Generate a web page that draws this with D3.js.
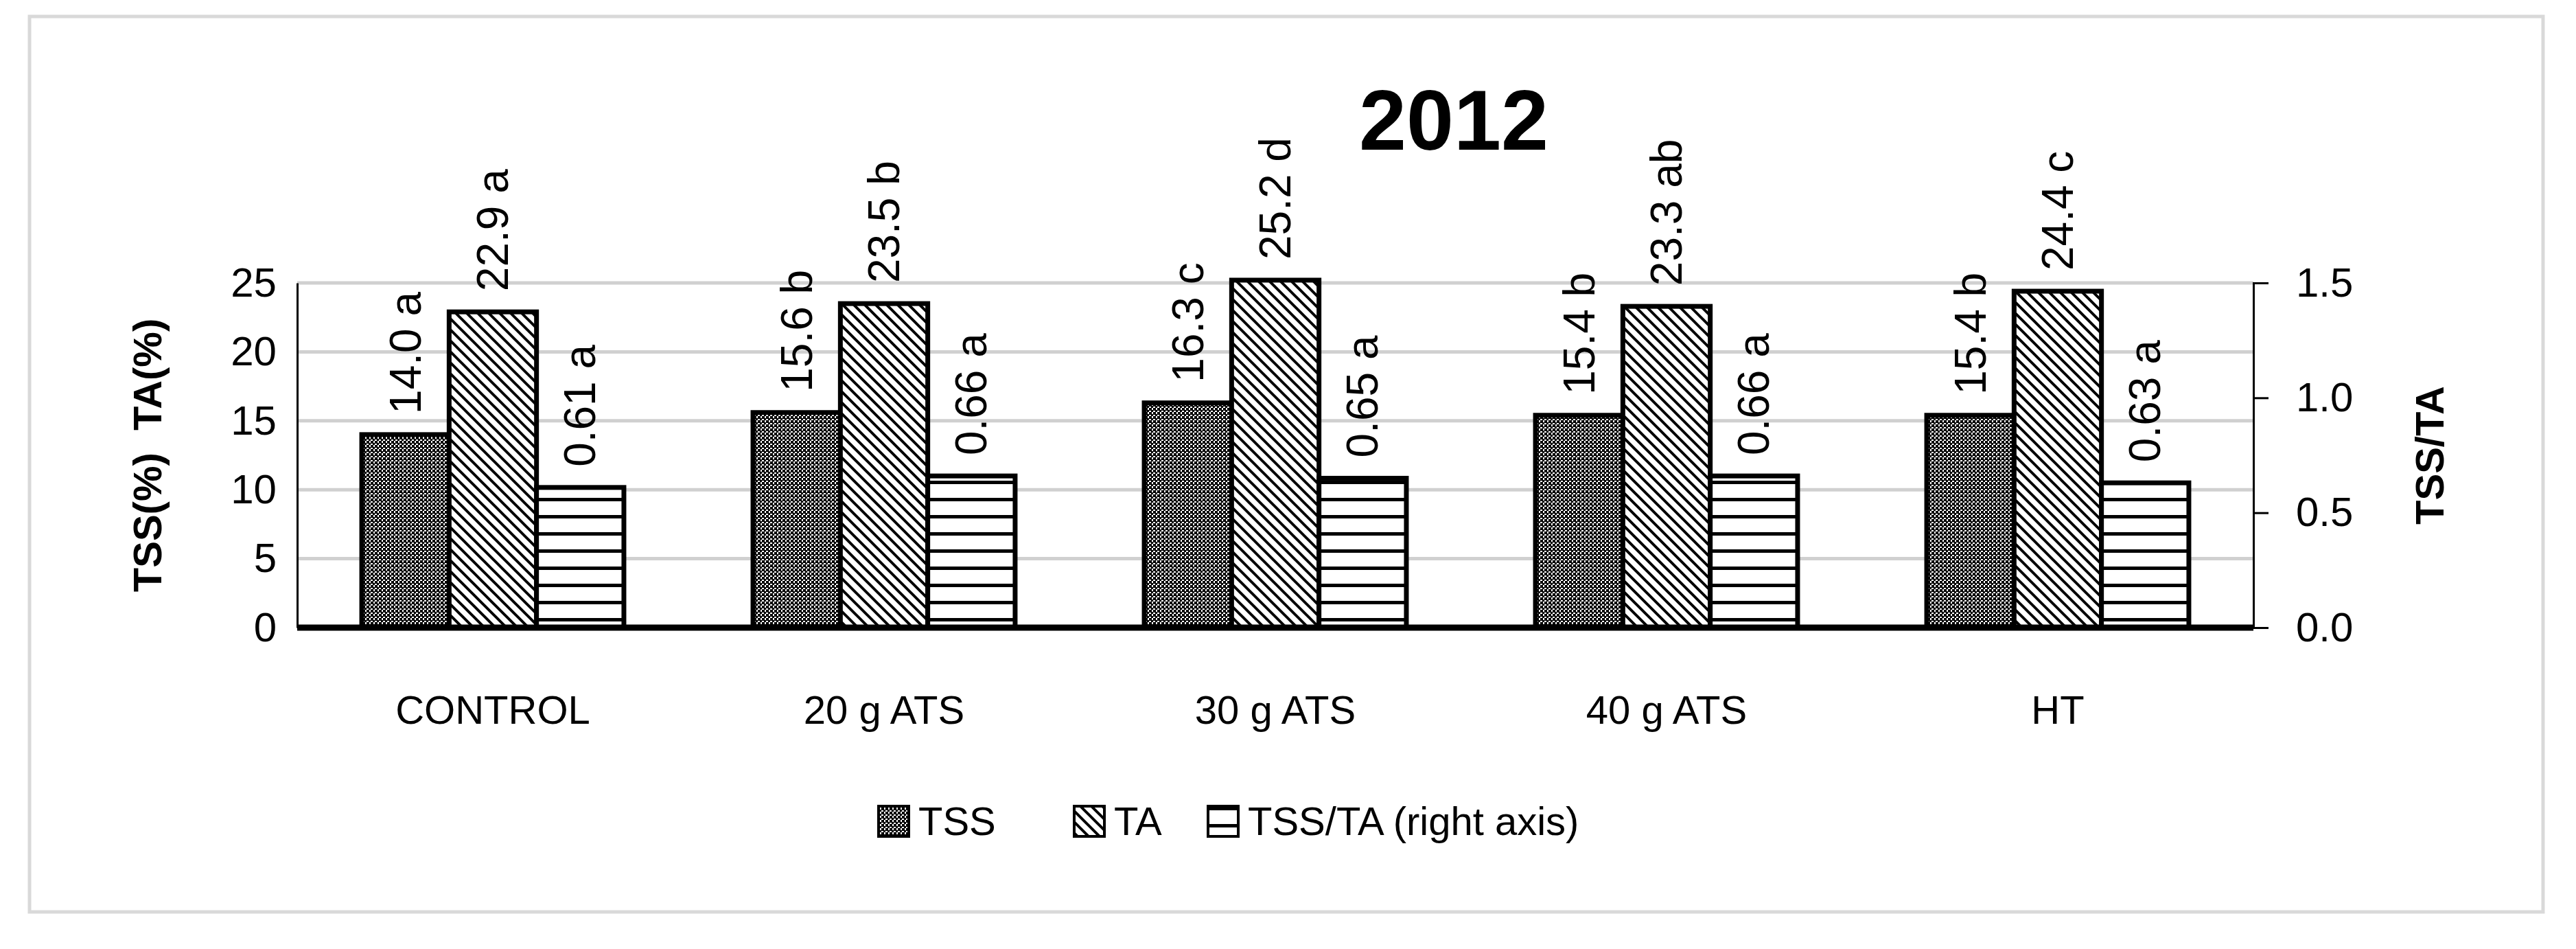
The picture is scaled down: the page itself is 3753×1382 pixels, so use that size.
<!DOCTYPE html>
<html><head><meta charset="utf-8">
<script src="https://cdn.jsdelivr.net/npm/d3@7"></script>
<style>body{margin:0;background:#fff}</style></head>
<body><svg id="c" width="3753" height="1382"></svg>
<script>
const categories = ["CONTROL","20 g ATS","30 g ATS","40 g ATS","HT"];
const tss = [14.0,15.6,16.3,15.4,15.4];
const ta = [22.9,23.5,25.2,23.3,24.4];
const ratio = [0.61,0.66,0.65,0.66,0.63];
const tssLetters = ["a","b","c","b","b"];
const taLetters = ["a","b","d","ab","c"];
const ratioLetters = ["a","a","a","a","a"];
const leftTicks = [0,5,10,15,20,25];
const rightTicks = [0,0.5,1.0,1.5];

const svg = d3.select("#c");
const F = "'Liberation Sans', Arial, sans-serif";
const defs = svg.append("defs");
let p = defs.append("pattern").attr("id","chk").attr("patternUnits","userSpaceOnUse").attr("width",6).attr("height",6);
p.append("rect").attr("width",6).attr("height",6).attr("fill","#fff");
p.append("rect").attr("width",4).attr("height",4).attr("fill","#000");
p.append("rect").attr("x",3).attr("y",3).attr("width",3).attr("height",3).attr("fill","#000");
p = defs.append("pattern").attr("id","diag").attr("patternUnits","userSpaceOnUse").attr("width",16).attr("height",16);
p.append("rect").attr("width",16).attr("height",16).attr("fill","#fff");
p.append("path").attr("d","M-2,-2 L18,18 M-2,14 L2,18 M14,-2 L18,2").attr("stroke","#000").attr("stroke-width",4);
p = defs.append("pattern").attr("id","hor").attr("patternUnits","userSpaceOnUse").attr("width",20).attr("height",25);
p.append("rect").attr("width",20).attr("height",25).attr("fill","#fff");
p.append("rect").attr("y",0).attr("width",20).attr("height",5).attr("fill","#000");

svg.append("rect").attr("x",43).attr("y",24).attr("width",3662).attr("height",1304).attr("fill","#fff").attr("stroke","#d9d9d9").attr("stroke-width",5);

const x0 = 433, x1 = 3283, yTop = 412, yBot = 914;
const x = d3.scaleBand().domain(categories).range([x0,x1]).paddingInner(0.33).paddingOuter(0.165);
const yL = d3.scaleLinear().domain([0,25]).range([yBot,yTop]);
const yR = d3.scaleLinear().domain([0,1.5]).range([yBot,yTop]);
const bw = x.bandwidth()/3;

svg.append("g").selectAll("line").data(leftTicks.slice(1)).join("line")
  .attr("x1",x0).attr("x2",x1).attr("y1",d=>yL(d)).attr("y2",d=>yL(d)).attr("stroke","#d0d0d0").attr("stroke-width",5);

const gl = svg.append("g").attr("transform",`translate(${x0},0)`).call(d3.axisLeft(yL).tickValues(leftTicks).tickSize(0).tickPadding(30));
gl.select(".domain").attr("stroke","#000").attr("stroke-width",3);
gl.selectAll("text").attr("font-family",F).attr("font-size",60).attr("fill","#000");
const gr = svg.append("g").attr("transform",`translate(${x1},0)`).call(d3.axisRight(yR).tickValues(rightTicks).tickFormat(d3.format(".1f")).tickSize(22).tickSizeOuter(22).tickPadding(40));
gr.select(".domain").attr("stroke","#000").attr("stroke-width",3);
gr.selectAll("line").attr("stroke","#000").attr("stroke-width",3);
gr.selectAll("text").attr("font-family",F).attr("font-size",60).attr("fill","#000");

const series = [
  {vals:tss, lets:tssLetters, y:yL, fill:"url(#chk)", fmt:d3.format(".1f")},
  {vals:ta, lets:taLetters, y:yL, fill:"url(#diag)", fmt:d3.format(".1f")},
  {vals:ratio, lets:ratioLetters, y:yR, fill:"url(#hor)", fmt:d3.format(".2f")}
];
series.forEach((s,i)=>{
  const g = svg.append("g");
  g.selectAll("rect").data(categories).join("rect")
    .attr("x",c=>x(c)+i*bw).attr("width",bw)
    .attr("y",(c,j)=>s.y(s.vals[j])).attr("height",(c,j)=>yBot-s.y(s.vals[j]))
    .attr("fill",s.fill).attr("stroke","#000").attr("stroke-width",7);
  g.selectAll("text").data(categories).join("text")
    .attr("transform",(c,j)=>`translate(${x(c)+i*bw+bw/2+22},${s.y(s.vals[j])-30}) rotate(-90)`)
    .attr("font-family",F).attr("font-size",64).attr("fill","#000")
    .text((c,j)=>s.fmt(s.vals[j])+" "+s.lets[j]);
});
svg.append("line").attr("x1",x0).attr("x2",x1).attr("y1",yBot).attr("y2",yBot).attr("stroke","#000").attr("stroke-width",9);

svg.append("g").selectAll("text").data(categories).join("text")
  .attr("x",c=>x(c)+x.bandwidth()/2).attr("y",1054).attr("text-anchor","middle")
  .attr("font-family",F).attr("font-size",58).text(c=>c);

svg.append("text").attr("x",2118).attr("y",218).attr("text-anchor","middle").attr("font-family",F).attr("font-weight","bold").attr("font-size",124).text("2012");
svg.append("text").attr("transform","translate(235,663) rotate(-90)").attr("text-anchor","middle").attr("font-family",F).attr("font-weight","bold").attr("font-size",58).attr("xml:space","preserve").text("TSS(%)  TA(%)");
svg.append("text").attr("transform","translate(3560,663) rotate(-90)").attr("text-anchor","middle").attr("font-family",F).attr("font-weight","bold").attr("font-size",58).text("TSS/TA");

const leg = [{f:"url(#chk)",t:"TSS",x:1280},{f:"url(#diag)",t:"TA",x:1565},{f:"url(#hor)",t:"TSS/TA (right axis)",x:1760}];
const lg = svg.append("g");
leg.forEach(l=>{
  lg.append("rect").attr("x",l.x).attr("y",1174).attr("width",44).attr("height",44).attr("fill",l.f).attr("stroke","#000").attr("stroke-width",4);
  lg.append("text").attr("x",l.x+58).attr("y",1216).attr("font-family",F).attr("font-size",58).text(l.t);
});
</script></body></html>
